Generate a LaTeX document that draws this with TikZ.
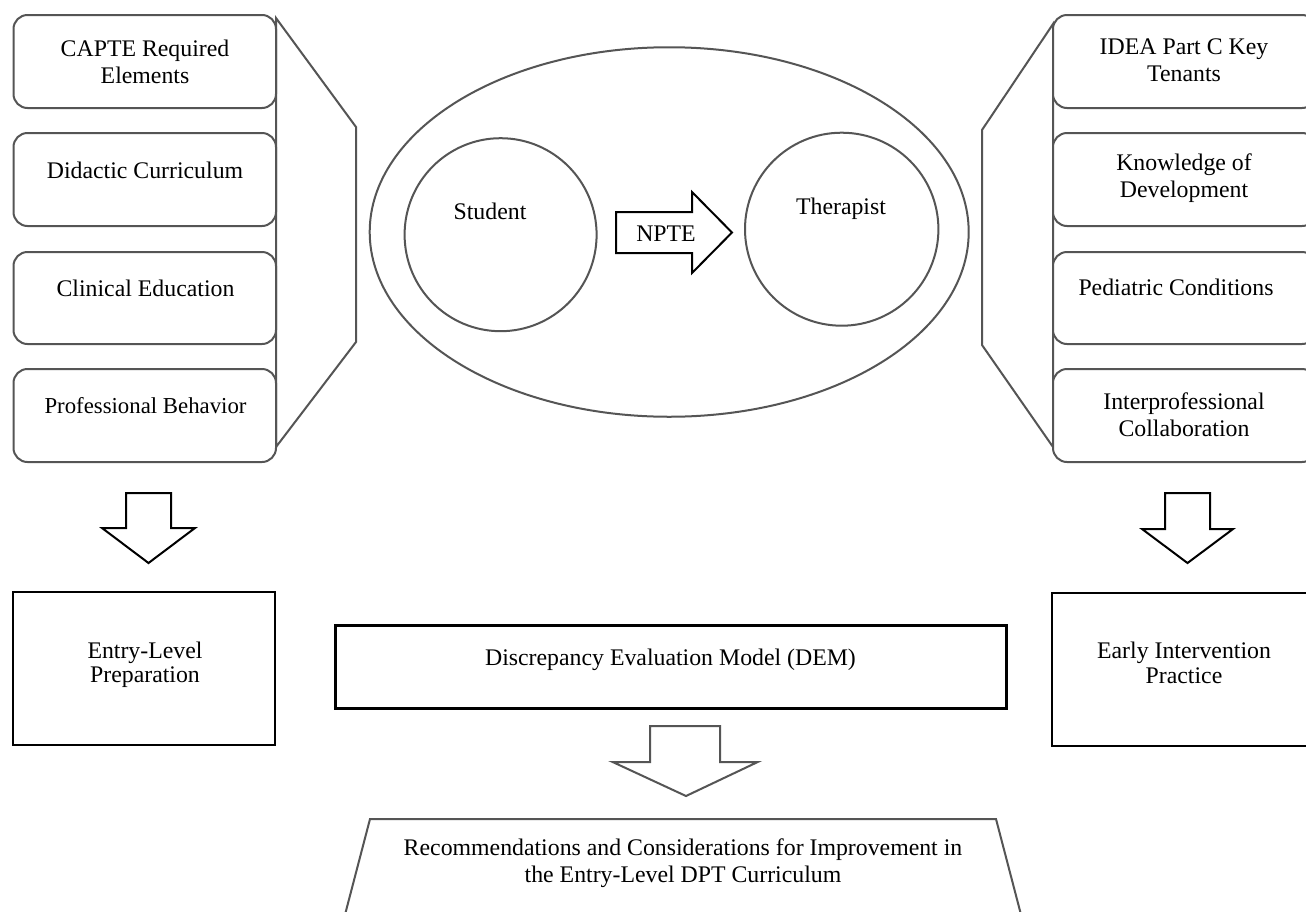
\documentclass[tikz,border=0pt]{standalone}
\usepackage{fontspec}
\setmainfont{Liberation Serif}
\usetikzlibrary{shapes.geometric}
\definecolor{lgray}{RGB}{85,85,85}
\begin{document}
\begin{tikzpicture}[x=1pt,y=-1pt,
  every node/.style={inner sep=0pt, outer sep=0pt},
  txt/.style={font=\fontsize{23.8}{27}\selectfont, align=center},
  txtb/.style={font=\fontsize{23.8}{27}\selectfont, anchor=base},
  gline/.style={draw=lgray, line width=2pt, line join=miter},
  rbox/.style={draw=lgray, line width=2pt, rounded corners=14pt, fill=white, rectangle, minimum width=262.5pt, minimum height=93pt},
  sbox/.style={draw=black, line width=2.2pt, fill=white, rectangle},
  circ/.style={draw=lgray, line width=2pt, ellipse},
  blk/.style={draw=black, line width=2pt, line join=miter, fill=white},
  gblk/.style={draw=lgray, line width=2pt, line join=miter, fill=white}
]
\useasboundingbox (0,0) rectangle (1306,911);
\clip (0,0) rectangle (1306,911);
\fill[white] (0,0) rectangle (1306,911);

% left bracket and boxes
\draw[gline] (276,18) -- (356,127) -- (356,342) -- (276,447) -- cycle;
\node[rbox] (l1) at (144.75,61.5) {};
\node[rbox] (l2) at (144.75,179.5) {};
\node[rbox, minimum height=92pt] (l3) at (144.75,298) {};
\node[rbox] (l4) at (144.75,415.5) {};
\node[txt] (tl1) at (145,61.5) {CAPTE Required\\Elements};
\node[txtb] (tl2) at (145,178) {Didactic Curriculum};
\node[txtb] (tl3) at (145.5,296) {Clinical Education};
\node[txtb, font=\fontsize{22.8}{27}\selectfont] (tl4) at (145.5,413) {Professional Behavior};

% right bracket and boxes
\draw[gline] (1053,24) -- (982,130) -- (982,345) -- (1053,447) -- cycle;
\node[rbox, minimum width=263pt] (r1) at (1184.5,61.5) {};
\node[rbox, minimum width=263pt] (r2) at (1184.5,179.5) {};
\node[rbox, minimum width=263pt, minimum height=92pt] (r3) at (1184.5,298) {};
\node[rbox, minimum width=263pt] (r4) at (1184.5,415.5) {};
\node[txt] (tr1) at (1184,60) {IDEA Part C Key\\Tenants};
\node[txt] (tr2) at (1184,178) {Knowledge of\\Development};
\node[txtb] (tr3) at (1176,295) {Pediatric Conditions};
\node[txt] (tr4) at (1184,415) {Interprofessional\\Collaboration};

% centre ellipse
\node[circ, minimum width=599pt, minimum height=369.5pt] (outer) at (669.2,232) {};
\node[circ, minimum width=192pt, minimum height=193pt] (student) at (500.6,234.7) {};
\node[circ, minimum width=193.4pt, minimum height=193pt] (therapist) at (841.7,229.2) {};
\node[txtb] (tstudent) at (490,219) {Student};
\node[txtb] (ttherapist) at (841,214.5) {Therapist};
\draw[blk] (616,212) -- (692,212) -- (692,192) -- (732,232.5) -- (692,273) -- (692,253) -- (616,253) -- cycle;
\node[txtb] (npte) at (666,241) {NPTE};

% down arrows
\draw[blk] (126,493) -- (171,493) -- (171,528) -- (195,528) -- (148.5,563) -- (102,528) -- (126,528) -- cycle;
\draw[blk] (1165,493) -- (1210,493) -- (1210,529) -- (1233,529) -- (1187.5,563) -- (1142,529) -- (1165,529) -- cycle;

% lower boxes
\node[sbox, minimum width=262pt, minimum height=153pt] (entry) at (144,668.5) {};
\node[txt, font=\fontsize{23.8}{24}\selectfont] (tentry) at (145,664.5) {Entry-Level\\Preparation};
\node[sbox, minimum width=264pt, minimum height=153pt] (early) at (1184,669.5) {};
\node[txt, font=\fontsize{23.8}{25}\selectfont] (tearly) at (1184,662.5) {Early Intervention\\Practice};
\node[sbox, line width=3pt, minimum width=671pt, minimum height=83pt] (dem) at (670.5,666.5) {};
\node[txtb] (tdem) at (670.5,665) {Discrepancy Evaluation Model (DEM)};

% bottom arrow and trapezoid
\draw[gblk] (650,726) -- (720,726) -- (720,762) -- (757.7,762) -- (686,796) -- (612.7,762) -- (650,762) -- cycle;
\draw[gline] (341,930) -- (370,819) -- (996,819) -- (1025,930);
\node[txt] (trec) at (683,863) {Recommendations and Considerations for Improvement in\\the Entry-Level DPT Curriculum};
\end{tikzpicture}
\end{document}
